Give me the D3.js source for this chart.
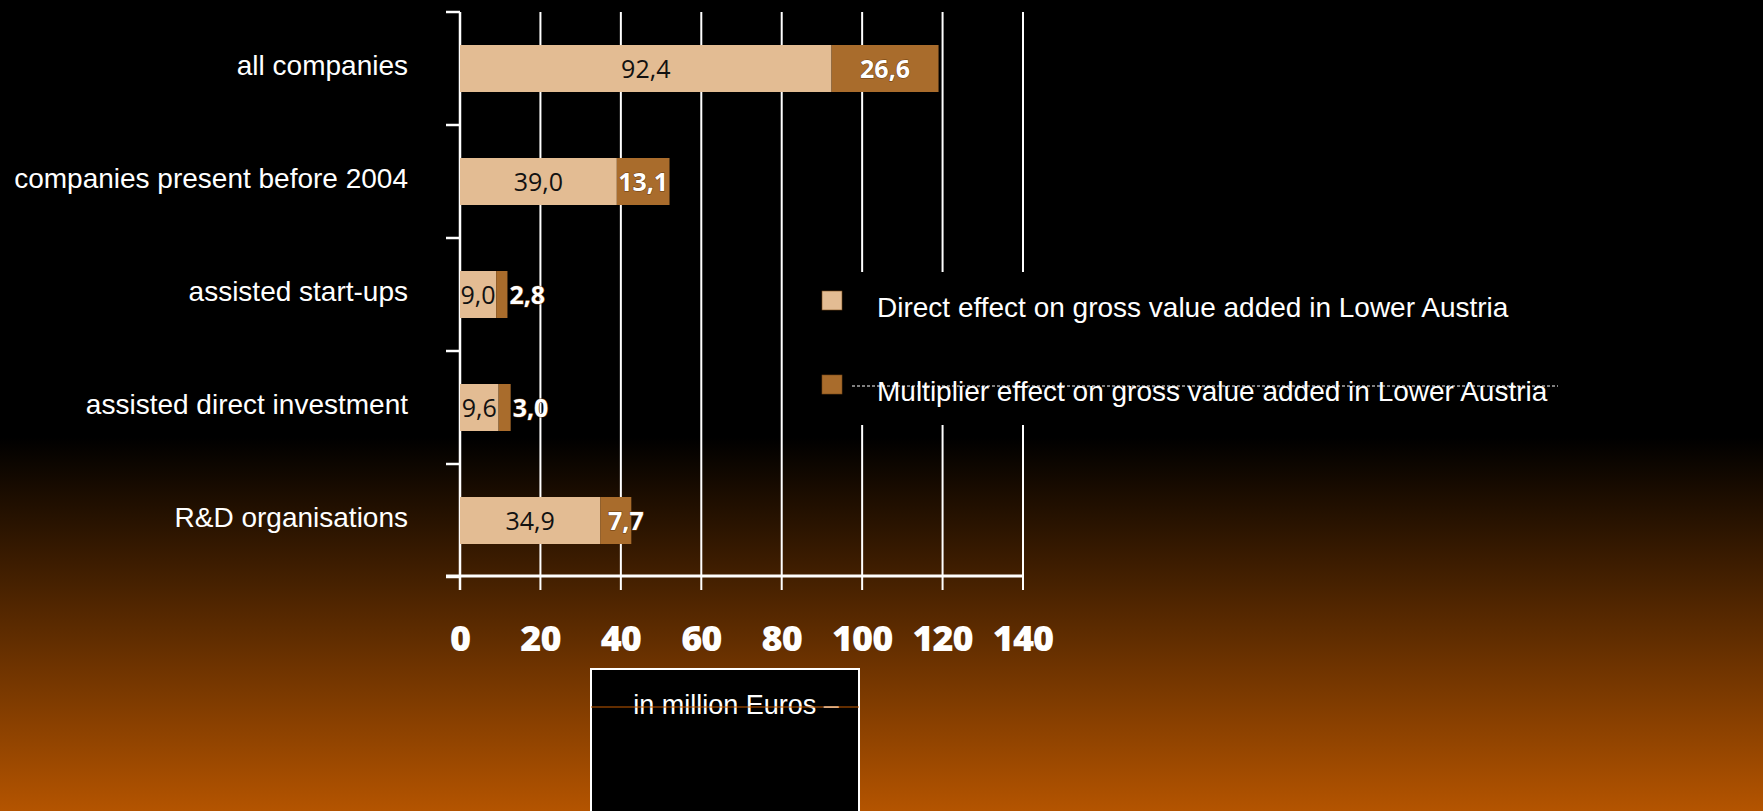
<!DOCTYPE html>
<html>
<head>
<meta charset="utf-8">
<script src="https://cdn.jsdelivr.net/npm/d3@7"></script>
<style>
  html, body { margin: 0; padding: 0; background: #000; overflow: hidden; }
  svg { display: block; }
</style>
</head>
<body>
<svg id="chart"></svg>
<script>
// chart data
const categories = ['all companies', 'companies present before 2004', 'assisted start-ups', 'assisted direct investment', 'R&D organisations']
const directValues = [92.4, 39.0, 9.0, 9.6, 34.9]
const multiplierValues = [26.6, 13.1, 2.8, 3.0, 7.7]
const xTicks = [0, 20, 40, 60, 80, 100, 120, 140]
const seriesNames = ['Direct effect on gross value added in Lower Austria', 'Multiplier effect on gross value added in Lower Austria']
const unitLabel = 'in million Euros \u2013'

const width = 1763, height = 811
const colors = ['#e3bc93', '#a96c2c']
const fmt = v => v.toFixed(1).replace('.', ',')

let svg = d3.select('#chart')
    .attr('width', width)
    .attr('height', height)

// background gradient: black on top, orange at the bottom
let defs = svg.append('defs')
let grad = defs.append('linearGradient')
    .attr('id', 'bg')
    .attr('x1', 0).attr('y1', 0).attr('x2', 0).attr('y2', 1)
grad.append('stop').attr('offset', '0%').attr('stop-color', '#000')
grad.append('stop').attr('offset', '54%').attr('stop-color', '#000')
grad.append('stop').attr('offset', '100%').attr('stop-color', '#b45400')

svg.append('rect')
    .attr('width', width)
    .attr('height', height)
    .style('fill', 'url(#bg)')

let x = d3.scaleLinear().domain([0, 140]).range([460, 1023])
let y = d3.scaleBand().domain(categories).range([12, 577])
let barH = 47

let g = svg.append('g')

// vertical grid lines (extend below the axis as tick marks)
g.selectAll('line.grid').data(xTicks.slice(1))
    .enter().append('line')
    .attr('class', 'grid')
    .attr('x1', d => x(d)).attr('x2', d => x(d))
    .attr('y1', 12).attr('y2', 590)
    .style('stroke', '#fff')
    .style('stroke-width', 2)

// y axis with category boundary ticks
g.append('line')
    .attr('x1', x(0)).attr('x2', x(0))
    .attr('y1', 12).attr('y2', 590)
    .style('stroke', '#fff').style('stroke-width', 2.5)
let bounds = categories.map(c => y(c)).concat([y.range()[1]])
g.selectAll('line.ytick').data(bounds)
    .enter().append('line')
    .attr('class', 'ytick')
    .attr('x1', x(0) - 14).attr('x2', x(0))
    .attr('y1', d => d).attr('y2', d => d)
    .style('stroke', '#fff').style('stroke-width', 2.5)

// x axis line
g.append('line')
    .attr('x1', x(0) - 14).attr('x2', x(140))
    .attr('y1', 576).attr('y2', 576)
    .style('stroke', '#fff').style('stroke-width', 3)

// stacked bars
let rows = categories.map((c, i) => ({ c, d: directValues[i], m: multiplierValues[i] }))
let barTop = d => y(d.c) + y.bandwidth() / 2 - barH / 2

g.selectAll('rect.direct').data(rows)
    .enter().append('rect')
    .attr('class', 'direct')
    .attr('x', x(0))
    .attr('y', barTop)
    .attr('width', d => x(d.d) - x(0))
    .attr('height', barH)
    .style('fill', colors[0])

g.selectAll('rect.mult').data(rows)
    .enter().append('rect')
    .attr('class', 'mult')
    .attr('x', d => x(d.d))
    .attr('y', barTop)
    .attr('width', d => x(d.d + d.m) - x(d.d))
    .attr('height', barH)
    .style('fill', colors[1])

// value labels
g.selectAll('text.dlab').data(rows)
    .enter().append('text')
    .attr('class', 'dlab')
    .attr('x', d => (x(0) + x(d.d)) / 2)
    .attr('y', d => y(d.c) + y.bandwidth() / 2)
    .attr('dy', '0.36em')
    .attr('text-anchor', 'middle')
    .style('font-family', '"Open Sans", sans-serif')
    .style('font-size', '25px')
    .style('fill', '#111')
    .text(d => fmt(d.d))

g.selectAll('text.mlab').data(rows)
    .enter().append('text')
    .attr('class', 'mlab')
    .attr('x', d => {
        let w = x(d.d + d.m) - x(d.d)
        return w < 20 ? x(d.d + d.m) + 2 : (x(d.d) + x(d.d + d.m)) / 2 + (w < 40 ? 10 : 0)
    })
    .attr('y', d => y(d.c) + y.bandwidth() / 2)
    .attr('dy', '0.36em')
    .attr('text-anchor', d => (x(d.d + d.m) - x(d.d)) < 20 ? 'start' : 'middle')
    .style('font-family', '"Open Sans", sans-serif')
    .style('font-weight', 'bold')
    .style('font-size', '25px')
    .style('fill', '#fff')
    .style('stroke', '#6a3d10')
    .style('stroke-width', 1)
    .style('paint-order', 'stroke')
    .text(d => fmt(d.m))

// category labels
svg.selectAll('text.cat').data(categories)
    .enter().append('text')
    .attr('class', 'cat')
    .attr('x', 408)
    .attr('y', d => y(d) + y.bandwidth() / 2)
    .attr('dy', '0.23em')
    .attr('text-anchor', 'end')
    .style('font-family', '"Liberation Sans", Arial, sans-serif')
    .style('font-size', '28px')
    .style('fill', '#fff')
    .text(d => d)

// x tick labels
svg.selectAll('text.xlab').data(xTicks)
    .enter().append('text')
    .attr('class', 'xlab')
    .attr('x', d => x(d))
    .attr('y', 651)
    .attr('text-anchor', 'middle')
    .style('font-family', '"Open Sans", sans-serif')
    .style('font-weight', 800)
    .style('font-size', '36px')
    .style('letter-spacing', '-1px')
    .style('fill', '#fff')
    .text(d => d)

// legend
let lg = svg.append('g')
lg.append('rect')
    .attr('x', 790).attr('y', 272)
    .attr('width', 770).attr('height', 153)
    .style('fill', '#000')
let legendY = [300, 384]
seriesNames.forEach((name, i) => {
    lg.append('rect')
        .attr('x', 822).attr('y', legendY[i] - 9)
        .attr('width', 20).attr('height', 19)
        .style('fill', colors[i])
        .style('stroke', '#7a4a1a').style('stroke-width', 0.6)
    lg.append('text')
        .attr('x', 877).attr('y', legendY[i] + 7)
        .attr('dy', '0.35em')
        .style('font-family', '"Liberation Sans", Arial, sans-serif')
        .style('font-size', '28px')
        .style('fill', '#fff')
        .text(name)
})
// thin dashed line crossing the second legend row
lg.append('line')
    .attr('x1', 852).attr('x2', 1558)
    .attr('y1', 386).attr('y2', 386)
    .style('stroke', '#fff').style('stroke-width', 1)
    .style('stroke-dasharray', '3,2')

// unit box
let ub = svg.append('g')
ub.append('rect')
    .attr('x', 591).attr('y', 669)
    .attr('width', 268).attr('height', 160)
    .style('fill', '#000')
    .style('stroke', '#fff').style('stroke-width', 2)
ub.append('text')
    .attr('x', 736).attr('y', 705)
    .attr('dy', '0.35em')
    .attr('text-anchor', 'middle')
    .style('font-family', '"Liberation Sans", Arial, sans-serif')
    .style('font-size', '27px')
    .style('fill', '#fff')
    .text(unitLabel)
ub.append('line')
    .attr('x1', 591).attr('x2', 859)
    .attr('y1', 707).attr('y2', 707)
    .style('stroke', '#c35a00').style('stroke-width', 1.2)
</script>
</body>
</html>
